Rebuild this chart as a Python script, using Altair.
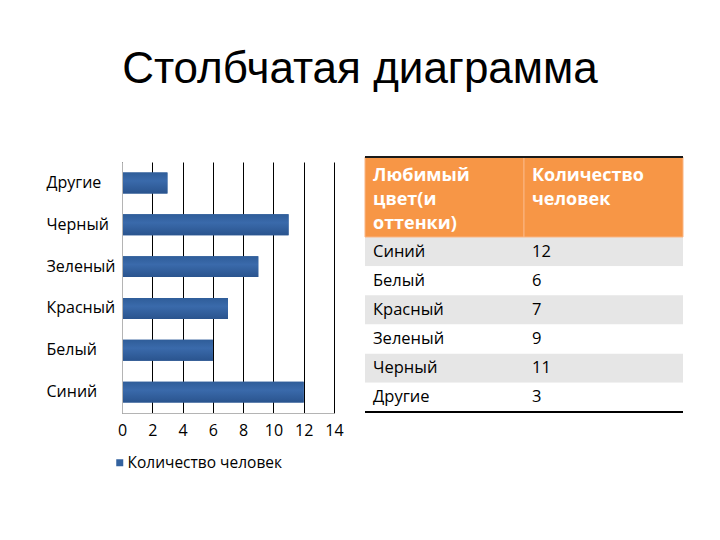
import altair as alt
import pandas as pd

# ---- data ----
categories = ["Синий", "Белый", "Красный", "Зеленый", "Черный", "Другие"]
values = [12, 6, 7, 9, 11, 3]
series_name = "Количество человек"
header_labels = ["Любимый\nцвет(и\nоттенки)", "Количество\nчеловек"]
x_ticks = [0, 2, 4, 6, 8, 10, 12, 14]
title_text = "Столбчатая диаграмма"

# ---- tables built from the arrays ----
bars_df = pd.DataFrame({"cat": categories, "value": values, "series": series_name})
order_top_down = list(reversed(categories))

cells = []
for i, (c, v) in enumerate(zip(categories, values)):
    cells.append({"row": c, "col": "c1", "text": c, "shade": 1 if i % 2 == 0 else 0})
    cells.append({"row": c, "col": "c2", "text": str(v), "shade": 1 if i % 2 == 0 else 0})
cells_df = pd.DataFrame(cells)
header_df = pd.DataFrame({"col": ["c1", "c2"], "text": header_labels})

FONT = "Open Sans"

# ---- bar chart ----
x_bar = alt.X(
    "value:Q",
    scale=alt.Scale(domain=[0, 14], range=[0, 212], nice=False, zero=True),
    axis=alt.Axis(values=x_ticks, title=None, grid=True, gridColor="black", gridWidth=1,
                  gridOpacity=1, domainColor="#B4B4B4", ticks=False, tickSize=0,
                  labelFlush=False, labelPadding=9, labelFont=FONT, labelFontSize=16,
                  labelColor="black"),
)
y_bar = alt.Y(
    "cat:N", sort=order_top_down,
    scale=alt.Scale(range=[0, 251], paddingInner=0.5, paddingOuter=0.25),
    axis=alt.Axis(title=None, ticks=False, tickSize=0, domainColor="#B4B4B4",
                  labelAlign="left", labelPadding=76, labelFont=FONT, labelFontSize=16,
                  labelColor="black", zindex=1),
)

gradient = alt.Gradient(
    gradient="linear", x1=0, x2=0, y1=0, y2=1,
    stops=[alt.GradientStop(color="#2F5D99", offset=0),
           alt.GradientStop(color="#3A6AAB", offset=0.4),
           alt.GradientStop(color="#2A548E", offset=1)],
)

legend_bars = alt.Chart(bars_df).mark_bar().encode(
    x=x_bar, y=y_bar,
    color=alt.Color("series:N", scale=alt.Scale(range=["#33629F"]),
                    legend=alt.Legend(orient="none", legendX=-10, legendY=293, title=None,
                                      symbolType="square", symbolSize=49, symbolStrokeWidth=0,
                                      labelFont=FONT, labelFontSize=15.5, labelColor="black",
                                      labelOffset=0, labelLimit=400, padding=0)),
)
grad_bars = alt.Chart(bars_df).mark_bar(fill=gradient).encode(x=x_bar, y=y_bar)
bar_layer = alt.layer(legend_bars, grad_bars)

# ---- table ----
col_scale = alt.Scale(domain=["c1", "c2"], range=[243, 561], paddingInner=0, paddingOuter=0)
row_scale = alt.Scale(domain=categories, range=[75, 250], paddingInner=0, paddingOuter=0)

row_rects = alt.Chart(cells_df).mark_rect().encode(
    x=alt.X("col:N", scale=col_scale, axis=None),
    y=alt.Y("row:N", scale=row_scale, axis=None),
    fill=alt.condition("datum.shade == 1", alt.value("#E6E6E6"), alt.value("white")),
)
row_text = alt.Chart(cells_df).mark_text(
    align="left", baseline="middle", dx=8, font=FONT, fontSize=16.5, color="black"
).encode(
    x=alt.X("col:N", scale=col_scale, axis=None, bandPosition=0),
    y=alt.Y("row:N", scale=row_scale, axis=None),
    text="text:N",
)
header_rect = alt.Chart(header_df).mark_rect(
    color="#F79646", stroke="#FAB583", strokeWidth=1
).encode(
    x=alt.X("col:N", scale=col_scale, axis=None),
    y=alt.value(-5), y2=alt.value(75),
)
header_text = alt.Chart(header_df).mark_text(
    align="left", baseline="alphabetic", dx=8, font=FONT, fontSize=18, fontWeight="bold",
    color="white", lineBreak="\n", lineHeight=24
).encode(
    x=alt.X("col:N", scale=col_scale, axis=None, bandPosition=0),
    y=alt.value(19),
    text="text:N",
)
top_rule = alt.Chart(header_df).mark_rule(color="#1A1A1A", strokeWidth=2).encode(
    x=alt.value(243), x2=alt.value(561), y=alt.value(-5)
)
bottom_rule = alt.Chart(header_df).mark_rule(color="black", strokeWidth=2).encode(
    x=alt.value(243), x2=alt.value(561), y=alt.value(250)
)
table_layer = alt.layer(row_rects, header_rect, row_text, header_text, top_rule, bottom_rule)

chart = alt.layer(bar_layer, table_layer).resolve_scale(
    x="independent", y="independent", color="independent"
).properties(
    width=561, height=251,
    background="white",
    autosize=alt.AutoSizeParams(type="none"),
    padding={"left": 122, "top": 162, "right": 37, "bottom": 127},
    title=alt.TitleParams(text=title_text, font="Liberation Sans", fontSize=44,
                          fontWeight="normal", color="black", anchor="middle",
                          frame="group", dx=-42.5, offset=64),
).configure_view(stroke=None)

chart.save("out.html", embed_options={"renderer": "svg", "actions": False})
